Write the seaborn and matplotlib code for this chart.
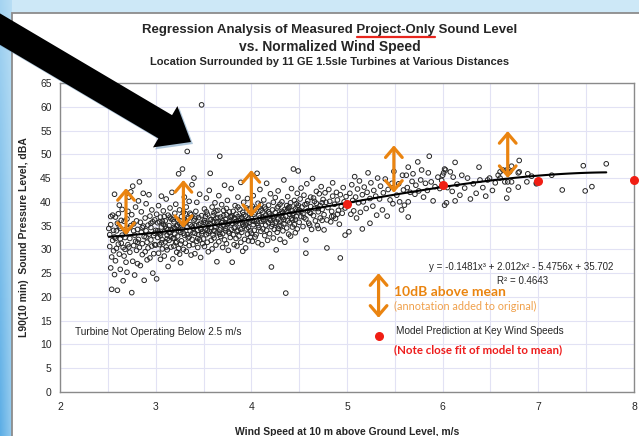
import numpy as np
import pandas as pd
import seaborn as sns
import matplotlib.pyplot as plt
from matplotlib.patches import Polygon, Rectangle
from matplotlib.lines import Line2D
from matplotlib.ticker import MultipleLocator

# puntos leidos a mano del grafico: (velocidad viento m/s, L90 dBA)
band_25_30 = [
    (2.51, 34.4), (2.52, 33.1), (2.52, 30.6), (2.53, 35.2), (2.53, 26.1), (2.54, 21.6), (2.54, 28.4), (2.55, 31.9), (2.55, 37.2), (2.56, 34.0),
    (2.56, 29.7), (2.57, 41.6), (2.57, 32.6), (2.58, 36.8), (2.58, 27.6), (2.59, 30.2), (2.59, 33.9), (2.60, 21.4), (2.60, 35.5), (2.61, 37.5),
    (2.61, 31.1), (2.62, 29.0), (2.62, 34.8), (2.63, 25.8), (2.63, 32.2), (2.64, 31.3), (2.64, 36.1), (2.65, 38.4), (2.65, 33.0), (2.66, 23.4),
    (2.66, 30.4), (2.67, 35.9), (2.67, 28.6), (2.68, 30.0), (2.68, 34.1), (2.69, 27.3), (2.69, 33.8), (2.70, 36.4), (2.70, 25.2), (2.71, 31.0),
    (2.71, 38.0), (2.72, 34.5), (2.72, 41.0), (2.73, 29.4), (2.73, 32.3), (2.74, 42.1), (2.74, 35.0), (2.75, 20.9), (2.75, 37.3), (2.76, 43.3),
    (2.76, 27.5), (2.77, 30.8), (2.77, 35.4), (2.78, 33.0), (2.78, 24.6), (2.79, 38.9), (2.79, 31.7), (2.80, 29.8), (2.80, 36.0), (2.81, 27.0),
    (2.81, 34.2), (2.82, 32.1), (2.82, 40.2), (2.83, 44.2), (2.83, 30.4), (2.84, 35.7), (2.84, 26.6), (2.85, 33.6), (2.85, 37.9), (2.86, 31.2),
    (2.86, 28.9), (2.87, 41.8), (2.87, 34.9), (2.88, 23.5), (2.88, 32.7), (2.89, 36.6), (2.89, 29.5), (2.90, 33.9), (2.90, 39.6), (2.91, 31.5),
    (2.91, 27.8), (2.92, 35.1), (2.92, 30.3), (2.93, 41.5), (2.93, 33.2), (2.94, 28.2), (2.94, 37.0), (2.95, 32.0), (2.95, 34.6), (2.96, 30.7),
    (2.96, 38.3), (2.97, 25.0), (2.97, 35.8), (2.98, 32.9), (2.98, 29.1), (2.99, 36.2), (2.99, 33.4), (2.53, 36.9), (2.57, 24.7), (2.62, 39.3),
]
band_30_35 = [
    (3.00, 34.0), (3.00, 30.9), (3.01, 23.8), (3.01, 37.4), (3.02, 32.5), (3.02, 35.6), (3.03, 29.2), (3.03, 39.2), (3.04, 33.3), (3.04, 31.0),
    (3.05, 36.8), (3.05, 27.9), (3.06, 34.7), (3.06, 41.2), (3.07, 32.0), (3.07, 30.1), (3.08, 35.3), (3.08, 38.1), (3.09, 33.7), (3.09, 28.6),
    (3.10, 31.6), (3.10, 36.0), (3.11, 34.4), (3.11, 40.6), (3.12, 29.9), (3.12, 33.0), (3.13, 37.2), (3.13, 26.4), (3.14, 35.0), (3.14, 31.9),
    (3.15, 38.7), (3.15, 33.5), (3.16, 30.5), (3.16, 36.4), (3.17, 34.1), (3.17, 42.0), (3.18, 32.3), (3.18, 28.0), (3.19, 35.8), (3.19, 30.7),
    (3.20, 37.6), (3.20, 33.2), (3.21, 31.4), (3.21, 39.5), (3.22, 34.9), (3.22, 29.4), (3.23, 36.2), (3.23, 32.8), (3.24, 45.9), (3.24, 30.2),
    (3.25, 35.4), (3.25, 38.3), (3.26, 33.6), (3.26, 27.2), (3.27, 31.8), (3.27, 36.9), (3.28, 46.9), (3.28, 34.3), (3.29, 30.0), (3.29, 37.8),
    (3.30, 33.0), (3.30, 41.0), (3.31, 35.6), (3.31, 31.3), (3.32, 38.9), (3.32, 29.6), (3.33, 50.6), (3.33, 34.7), (3.34, 32.4), (3.34, 36.5),
    (3.35, 30.8), (3.35, 40.1), (3.36, 33.9), (3.36, 35.2), (3.37, 28.8), (3.37, 37.3), (3.38, 32.1), (3.38, 43.6), (3.39, 34.5), (3.39, 31.0),
    (3.40, 45.0), (3.40, 36.1), (3.41, 33.4), (3.41, 29.1), (3.42, 38.0), (3.42, 35.0), (3.43, 31.7), (3.43, 39.9), (3.44, 34.0), (3.44, 30.4),
    (3.45, 36.7), (3.45, 33.1), (3.46, 41.6), (3.46, 32.0), (3.47, 35.5), (3.47, 28.3), (3.48, 60.4), (3.48, 37.1), (3.49, 33.8), (3.49, 31.2),
    (3.02, 33.9), (3.06, 31.4), (3.09, 36.9), (3.13, 34.2), (3.16, 32.7), (3.19, 34.6), (3.23, 35.1), (3.26, 31.1), (3.29, 33.4), (3.32, 35.9),
    (3.35, 32.6), (3.38, 34.9), (3.41, 36.4), (3.44, 32.3), (3.47, 34.3), (3.04, 35.8), (3.11, 30.5), (3.18, 36.3), (3.25, 29.0), (3.31, 37.5),
]
band_35_40 = [
    (3.50, 35.7), (3.50, 32.2), (3.51, 38.5), (3.51, 30.6), (3.52, 34.3), (3.52, 36.9), (3.53, 33.1), (3.53, 40.8), (3.54, 31.5), (3.54, 37.4),
    (3.55, 35.0), (3.55, 29.5), (3.56, 42.4), (3.56, 33.8), (3.57, 46.0), (3.57, 36.2), (3.58, 31.9), (3.58, 34.6), (3.59, 38.9), (3.59, 30.1),
    (3.60, 35.9), (3.60, 33.0), (3.61, 37.7), (3.61, 32.4), (3.62, 39.8), (3.62, 34.8), (3.63, 30.9), (3.63, 36.5), (3.64, 27.4), (3.64, 33.5),
    (3.65, 38.2), (3.65, 35.3), (3.66, 31.6), (3.66, 41.3), (3.67, 49.6), (3.67, 34.1), (3.68, 36.8), (3.68, 32.7), (3.69, 35.6), (3.69, 39.4),
    (3.70, 33.3), (3.70, 30.4), (3.71, 37.1), (3.71, 35.0), (3.72, 43.5), (3.72, 32.0), (3.73, 36.3), (3.73, 34.4), (3.74, 38.6), (3.74, 31.2),
    (3.75, 35.2), (3.75, 40.3), (3.76, 33.7), (3.76, 29.8), (3.77, 37.9), (3.77, 35.8), (3.78, 32.5), (3.78, 36.9), (3.79, 34.2), (3.79, 42.8),
    (3.80, 27.3), (3.80, 35.5), (3.81, 38.0), (3.81, 33.1), (3.82, 31.0), (3.82, 36.6), (3.83, 39.2), (3.83, 34.7), (3.84, 32.3), (3.84, 37.4),
    (3.85, 35.9), (3.85, 30.7), (3.86, 41.0), (3.86, 34.0), (3.87, 36.1), (3.87, 32.8), (3.88, 38.4), (3.88, 35.4), (3.89, 31.5), (3.89, 44.1),
    (3.90, 36.7), (3.90, 33.6), (3.91, 29.6), (3.91, 37.8), (3.92, 34.9), (3.92, 39.9), (3.93, 32.1), (3.93, 36.0), (3.94, 35.1), (3.94, 30.3),
    (3.95, 38.7), (3.95, 34.3), (3.96, 33.2), (3.96, 40.7), (3.97, 36.4), (3.97, 31.8), (3.98, 35.7), (3.98, 37.6), (3.99, 33.9), (3.99, 32.6),
    (3.52, 35.6), (3.55, 33.4), (3.58, 36.3), (3.61, 34.0), (3.64, 35.8), (3.67, 33.2), (3.70, 36.0), (3.73, 33.9), (3.76, 35.5), (3.79, 36.8),
    (3.82, 34.5), (3.85, 33.8), (3.88, 36.5), (3.91, 35.3), (3.94, 37.0), (3.97, 34.6), (3.53, 37.9), (3.63, 38.1), (3.74, 37.3), (3.86, 38.9),
]
band_40_45 = [
    (4.00, 36.5), (4.00, 33.4), (4.01, 39.1), (4.01, 31.7), (4.02, 35.2), (4.02, 41.3), (4.03, 37.4), (4.03, 34.0), (4.04, 32.6), (4.04, 38.6),
    (4.05, 36.0), (4.05, 33.1), (4.06, 46.0), (4.06, 35.5), (4.07, 39.7), (4.07, 31.4), (4.08, 37.1), (4.08, 34.6), (4.09, 36.6), (4.09, 42.6),
    (4.10, 33.8), (4.10, 38.2), (4.11, 35.9), (4.11, 31.0), (4.12, 37.8), (4.12, 34.3), (4.13, 40.4), (4.13, 36.3), (4.14, 32.9), (4.14, 38.9),
    (4.15, 35.1), (4.15, 37.2), (4.16, 34.0), (4.16, 43.9), (4.17, 36.8), (4.17, 31.9), (4.18, 39.3), (4.18, 35.6), (4.19, 33.3), (4.19, 37.5),
    (4.20, 41.7), (4.20, 36.1), (4.21, 26.3), (4.21, 34.8), (4.22, 38.3), (4.22, 35.3), (4.23, 32.4), (4.23, 39.9), (4.24, 36.9), (4.24, 34.2),
    (4.25, 37.7), (4.25, 40.9), (4.26, 29.9), (4.26, 35.8), (4.27, 38.7), (4.27, 33.6), (4.28, 36.4), (4.28, 42.3), (4.29, 34.9), (4.29, 37.3),
    (4.30, 39.5), (4.30, 32.1), (4.31, 36.2), (4.31, 35.0), (4.32, 40.0), (4.32, 38.0), (4.33, 33.9), (4.33, 36.7), (4.34, 44.6), (4.34, 35.4),
    (4.35, 38.4), (4.35, 31.5), (4.36, 20.8), (4.36, 37.0), (4.37, 39.2), (4.37, 34.5), (4.38, 36.0), (4.38, 41.1), (4.39, 33.2), (4.39, 38.8),
    (4.40, 37.4), (4.40, 35.6), (4.41, 39.8), (4.41, 32.8), (4.42, 36.5), (4.42, 42.8), (4.43, 38.1), (4.43, 34.7), (4.44, 46.9), (4.44, 37.6),
    (4.45, 35.2), (4.45, 40.3), (4.46, 38.5), (4.46, 33.5), (4.47, 36.9), (4.47, 39.6), (4.48, 34.3), (4.48, 41.8), (4.49, 46.5), (4.49, 37.9),
    (4.03, 35.9), (4.08, 38.8), (4.13, 36.0), (4.18, 37.9), (4.23, 36.6), (4.28, 34.4), (4.33, 37.8), (4.38, 38.6), (4.43, 36.2), (4.48, 38.9),
]
band_45_50 = [
    (4.50, 38.3), (4.50, 35.7), (4.51, 40.6), (4.52, 36.9), (4.52, 42.9), (4.53, 38.9), (4.54, 34.8), (4.54, 37.5), (4.55, 41.4), (4.56, 39.4),
    (4.57, 32.0), (4.57, 36.4), (4.58, 43.8), (4.59, 38.1), (4.59, 40.2), (4.60, 35.5), (4.61, 37.8), (4.62, 41.0), (4.62, 39.0), (4.63, 34.2),
    (4.64, 44.9), (4.65, 37.1), (4.65, 40.8), (4.66, 38.6), (4.67, 36.0), (4.68, 42.2), (4.68, 39.7), (4.69, 35.0), (4.70, 37.9), (4.71, 41.7),
    (4.72, 39.2), (4.72, 36.6), (4.73, 43.2), (4.74, 38.4), (4.75, 40.5), (4.76, 34.1), (4.76, 37.3), (4.77, 41.9), (4.78, 39.9), (4.79, 30.3),
    (4.79, 36.2), (4.80, 38.8), (4.81, 42.6), (4.82, 40.1), (4.83, 35.8), (4.84, 38.0), (4.85, 41.2), (4.85, 44.0), (4.86, 37.0), (4.87, 39.5),
    (4.88, 36.5), (4.89, 42.0), (4.90, 40.4), (4.91, 38.2), (4.92, 35.3), (4.93, 28.2), (4.93, 41.5), (4.94, 39.0), (4.95, 37.6), (4.96, 43.0),
    (4.97, 40.0), (4.98, 33.0), (4.98, 38.7), (4.99, 41.1), (4.57, 29.2), (4.61, 35.1), (4.70, 34.4), (4.74, 36.1), (4.84, 36.9), (4.90, 37.4),
]
band_50_55 = [
    (5.01, 39.2), (5.02, 33.7), (5.03, 41.8), (5.04, 37.4), (5.05, 43.6), (5.06, 40.3), (5.07, 38.1), (5.08, 45.3), (5.09, 41.0), (5.10, 36.6),
    (5.11, 42.7), (5.12, 39.8), (5.13, 44.4), (5.14, 37.8), (5.16, 34.3), (5.16, 41.5), (5.17, 40.0), (5.18, 43.1), (5.20, 38.6), (5.21, 42.0),
    (5.22, 46.1), (5.24, 35.5), (5.24, 40.7), (5.25, 44.0), (5.27, 39.1), (5.28, 42.4), (5.30, 41.2), (5.31, 37.2), (5.32, 45.0), (5.34, 40.6),
    (5.35, 43.3), (5.37, 38.3), (5.38, 41.9), (5.40, 44.8), (5.42, 37.0), (5.43, 42.6), (5.45, 40.4), (5.47, 43.9), (5.48, 39.6), (5.49, 46.4),
]
band_55_60 = [
    (5.52, 41.4), (5.54, 43.8), (5.55, 40.0), (5.57, 38.3), (5.58, 45.6), (5.59, 42.5), (5.60, 39.3), (5.62, 45.6), (5.63, 43.0), (5.64, 47.3),
    (5.64, 36.8), (5.64, 40.0), (5.66, 42.0), (5.68, 44.3), (5.69, 45.9), (5.71, 41.6), (5.72, 43.5), (5.74, 48.4), (5.75, 42.3), (5.77, 44.6),
    (5.78, 46.7), (5.80, 41.0), (5.82, 43.9), (5.84, 42.4), (5.85, 46.1), (5.86, 49.6), (5.88, 44.2), (5.90, 40.2), (5.92, 43.2), (5.95, 45.2),
    (5.97, 42.8), (5.99, 44.5),
]
band_60_65 = [
    (6.00, 45.6), (6.01, 46.1), (6.02, 39.3), (6.02, 46.9), (6.03, 46.7), (6.04, 39.8), (6.05, 43.0), (6.08, 46.3), (6.10, 42.2), (6.11, 45.2),
    (6.13, 48.3), (6.13, 40.2), (6.15, 43.7), (6.18, 41.4), (6.20, 45.6), (6.23, 42.9), (6.26, 45.0), (6.29, 40.6), (6.32, 43.8), (6.35, 41.8),
    (6.38, 47.3), (6.39, 44.6), (6.42, 43.0), (6.45, 41.2), (6.47, 44.6), (6.49, 45.0),
]
band_65_77 = [
    (6.52, 42.4), (6.55, 44.0), (6.58, 45.6), (6.60, 46.3), (6.60, 45.0), (6.63, 46.7), (6.65, 44.2), (6.67, 40.8), (6.67, 46.7), (6.68, 44.2),
    (6.68, 46.3), (6.69, 42.5), (6.70, 46.3), (6.72, 44.2), (6.72, 47.5), (6.79, 43.1), (6.79, 46.1), (6.80, 48.7), (6.80, 46.3), (6.88, 44.2),
    (6.89, 45.9), (6.93, 45.4), (6.98, 43.8), (6.98, 44.0), (7.14, 45.6), (7.25, 42.5), (7.47, 47.6), (7.49, 42.3), (7.56, 43.2), (7.71, 48.0),
]
# nube densa cerca de la media (zona mas oscura del original)
band_dense = [
    (3.03, 33.6), (3.07, 35.9), (3.12, 32.2), (3.15, 36.8), (3.20, 34.4), (3.22, 31.6), (3.27, 35.0), (3.30, 36.3), (3.33, 33.1), (3.36, 37.6),
    (3.39, 33.5), (3.42, 36.8), (3.45, 35.2), (3.48, 33.3), (3.51, 36.1), (3.54, 34.0), (3.57, 35.4), (3.60, 37.1), (3.62, 33.8), (3.65, 36.7),
    (3.68, 34.5), (3.71, 38.2), (3.73, 35.6), (3.77, 33.4), (3.80, 37.0), (3.83, 35.8), (3.86, 36.9), (3.89, 34.2), (3.92, 37.3), (3.95, 35.6),
    (3.98, 38.5), (4.01, 36.0), (4.04, 37.7), (4.07, 35.0), (4.10, 39.4), (4.12, 36.7), (4.15, 38.5), (4.19, 36.4), (4.22, 37.0), (4.25, 35.5),
    (4.28, 39.0), (4.31, 37.5), (4.34, 36.2), (4.37, 38.0), (4.40, 39.0), (4.43, 37.2), (4.46, 36.3), (4.49, 39.3), (4.52, 38.0), (4.55, 36.7),
    (4.58, 39.6), (4.62, 37.6), (4.66, 40.1), (4.70, 38.6), (4.74, 39.8), (2.58, 32.3), (2.63, 34.4), (2.68, 32.5), (2.72, 30.5), (2.77, 33.9),
    (2.81, 31.5), (2.86, 34.6), (2.90, 32.6), (2.95, 35.5), (2.99, 31.0), (3.05, 33.0), (3.10, 34.9), (3.14, 33.6), (3.19, 32.4), (3.24, 33.9),
]

# prediccion del modelo (puntos rojos)
model_ws = [5, 6, 7, 8]
model_db = [39.5, 43.5, 44.4, 44.5]

# flechas naranjas: media -> media + 10 dB
arrow_ws = [2.69, 3.29, 4.00, 5.49, 6.68]
arrow_lo = [33.0, 34.5, 36.8, 41.9, 45.0]
arrow_hi = [42.9, 44.6, 46.7, 51.9, 54.9]

df = pd.DataFrame(band_25_30 + band_30_35 + band_35_40 + band_40_45 + band_45_50
                  + band_50_55 + band_55_60 + band_60_65 + band_65_77 + band_dense,
                  columns=['ws', 'db'])

sns.set_style('white')
plt.rcParams['font.family'] = ['Liberation Sans', 'DejaVu Sans']

W, H = 639, 436
fig = plt.figure(figsize=(W / 100, H / 100), dpi=100)

# fondo tipo diapositiva
bg = fig.add_axes([0, 0, 1, 1], zorder=-10)
bg.axis('off')
gx = np.linspace(0, 1, 40)[None, :, None]
gy = np.linspace(0, 1, 60)[:, None, None]
light = np.array([0.80, 0.91, 0.97])
dark = np.array([0.36, 0.68, 0.90])
grad = light + (dark - light) * (0.35 + 0.65 * gy) * (1 - 0.5 * gx)
bg.imshow(grad, extent=[0, 12, 0, H], aspect='auto', origin='upper')
bg.set_xlim(0, W)
bg.set_ylim(0, H)
fig.patch.set_facecolor('#cde8f7')
fig.add_artist(Rectangle((12 / W, -0.05), 1.2, 1.05 - 13 / H, transform=fig.transFigure,
                         facecolor='white', edgecolor='#8c8c8c', lw=1.3, zorder=-5))

ax = fig.add_axes([60 / W, 1 - 392 / H, 574 / W, 309 / H])
sns.regplot(data=df, x='ws', y='db', order=3, ci=None, ax=ax, color='#262626',
            scatter_kws=dict(s=11, facecolors='none', linewidths=0.7, alpha=1, zorder=2),
            line_kws=dict(color='black', lw=1.5, zorder=3))

ax.scatter(model_ws, model_db, s=30, color='#f01e14', zorder=5, clip_on=False)

arrow_style = dict(arrowstyle='<->, head_length=0.7, head_width=0.6', color='#ea8410',
                   lw=2.3, shrinkA=0, shrinkB=0, mutation_scale=10)
for x, lo, hi in zip(arrow_ws, arrow_lo, arrow_hi):
    ax.annotate('', xy=(x, hi), xytext=(x, lo), zorder=6, arrowprops=arrow_style)

# leyenda hecha a mano
ax.annotate('', xy=(5.33, 25.0), xytext=(5.33, 15.6), arrowprops=arrow_style)
ax.scatter([5.33], [11.8], s=30, color='#f01e14', zorder=5)
ax.text(5.49, 21.0, '10dB above mean', color='#ea8410', fontsize=10, fontweight='bold',
        family='Lato', va='center')
ax.text(5.49, 17.9, '(annotation added to original)', color='#f0a04a', fontsize=7.8,
        family='Lato', va='center')
ax.text(5.51, 12.8, 'Model Prediction at Key Wind Speeds', fontsize=7.2, va='center')
ax.text(5.49, 9.0, '(Note close fit of model to mean)', color='#ee1c1c', fontsize=8.3,
        fontweight='bold', family='Lato', va='center')
ax.text(2.16, 12.6, 'Turbine Not Operating Below 2.5 m/s', fontsize=7.3, va='center')
ax.text(6.82, 26.3, 'y = -0.1481x\u00b3 + 2.012x\u00b2 - 5.4756x + 35.702', fontsize=7,
        ha='center', va='center')
ax.text(6.83, 23.3, 'R\u00b2 = 0.4643', fontsize=7, ha='center', va='center')

ax.set_xlim(2, 8)
ax.set_ylim(0, 65)
ax.set_xticks(range(2, 9))
ax.set_yticks(range(0, 66, 5))
ax.xaxis.set_minor_locator(MultipleLocator(0.5))
ax.grid(True, which='both', color='#e2e2f4', lw=0.8)
ax.set_axisbelow(True)
for s in ax.spines.values():
    s.set_color('#8a8a8a')
    s.set_linewidth(1.0)
ax.tick_params(axis='both', which='major', labelsize=7.5, length=3, color='#8a8a8a', pad=3)
ax.tick_params(axis='x', which='major', pad=4)
ax.set_xlabel('Wind Speed at 10 m above Ground Level, m/s', fontsize=7.5, fontweight='bold', labelpad=11)
ax.set_ylabel('L90(10 min)  Sound Pressure Level, dBA', fontsize=7.5, fontweight='bold', labelpad=8)

# titulos
title1 = 'Regression Analysis of Measured Project-Only Sound Level'
t1 = fig.text(330 / W, 1 - 30 / H, title1, ha='center', va='center', fontsize=9.5, fontweight='bold')
fig.text(330 / W, 1 - 47 / H, 'vs. Normalized Wind Speed', ha='center', va='center',
         fontsize=10, fontweight='bold')
fig.text(330 / W, 1 - 62 / H, 'Location Surrounded by 11 GE 1.5sle Turbines at Various Distances',
         ha='center', va='center', fontsize=8, fontweight='bold')

fig.canvas.draw()
rend = fig.canvas.get_renderer()


def text_w(s):
    tmp = fig.text(0, 0, s, fontsize=9.5, fontweight='bold')
    w = tmp.get_window_extent(rend).width
    tmp.remove()
    return w


bb = t1.get_window_extent(rend)
x_end = bb.x0 + text_w('Regression Analysis of Measured Project-Only')
x_start = x_end - text_w('Project-Only')
fig.add_artist(Line2D([x_start / W, x_end / W], [(bb.y0 - 1) / H] * 2,
                      transform=fig.transFigure, color='#e8261e', lw=1.6))

# flecha negra grande
tail = np.array([-12.0, 22.0])
tip = np.array([191.0, 142.0])
d = (tip - tail) / np.linalg.norm(tip - tail)
n = np.array([-d[1], d[0]])
base = tip - 30 * d
pts = [tail + 13.5 * n, base + 13.5 * n, base + 24 * n, tip, base - 24 * n, base - 13.5 * n, tail - 13.5 * n]
shadow = [(x / W + 2 / W, 1 - (y + 2) / H) for x, y in pts]
fig.add_artist(Polygon(shadow, closed=True, transform=fig.transFigure, facecolor='#5d8db5',
                       alpha=0.5, edgecolor='none', zorder=8))
fig.add_artist(Polygon([(x / W, 1 - y / H) for x, y in pts], closed=True, transform=fig.transFigure,
                       facecolor='black', edgecolor='none', zorder=9))

fig.savefig('out.png', dpi=100, facecolor=fig.get_facecolor())
